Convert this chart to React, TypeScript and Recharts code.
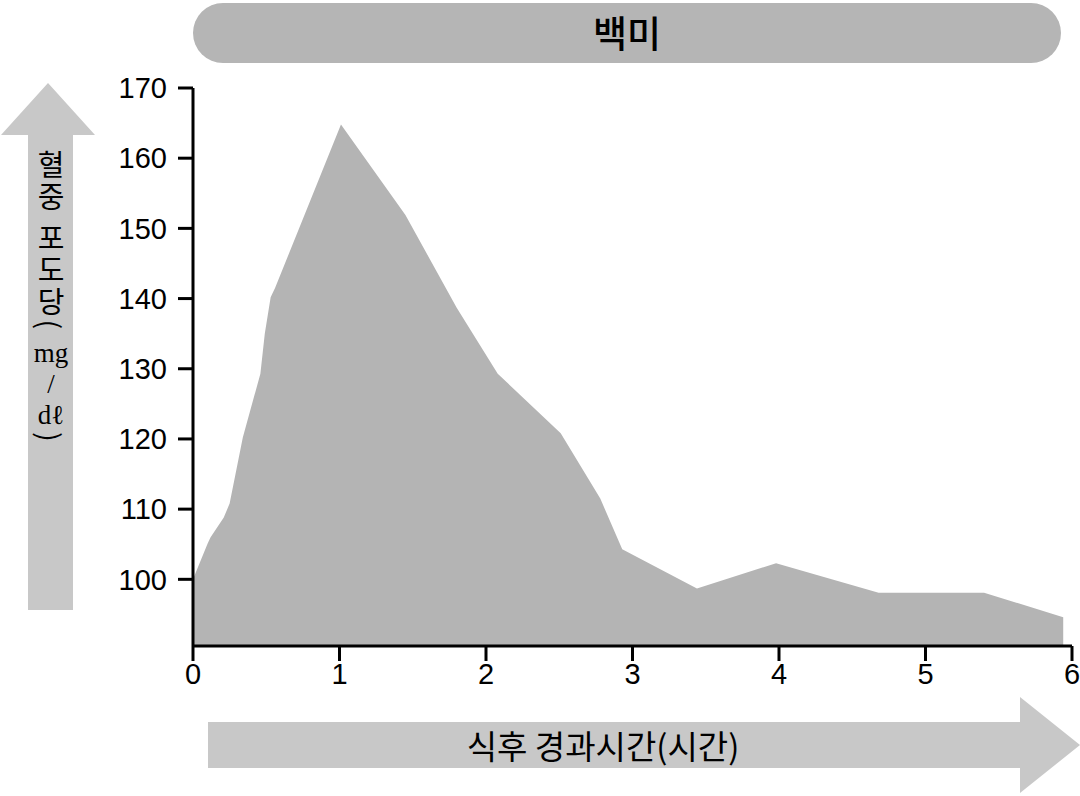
import React from 'react';
import { AreaChart, Area, XAxis, YAxis } from 'recharts';

// hours after meal
const hours = [0, 0.1, 0.12, 0.21, 0.25, 0.34, 0.46, 0.49, 0.53, 0.56, 1.01, 1.45, 1.8, 2.08, 2.51, 2.78, 2.93, 3.44, 3.98, 4.68, 5.4, 5.94];
// blood glucose mg/dl
const glucose = [100, 105.1, 106, 108.8, 110.8, 120.2, 129.3, 135, 140.2, 141.5, 164.8, 151.9, 138.7, 129.3, 120.8, 111.5, 104.3, 98.7, 102.3, 98.1, 98.1, 94.6];

const xTicks = [0, 1, 2, 3, 4, 5, 6];
const yTicks = [100, 110, 120, 130, 140, 150, 160, 170];

const title = '백미';
const xLabel = '식후 경과시간(시간)';
const yLabelMain = '혈중 포도당(';
const yLabelUnits = [
  { t: 'mg', y: 353 },
  { t: '/', y: 384 },
  { t: 'dℓ', y: 415 },
];
const yLabelClose = ')';

const chartData = hours.map((t, i) => ({ t, v: glucose[i] }));

const KR = '"Noto Sans CJK KR", "Noto Sans", sans-serif';
const NUM = '"Liberation Sans", Arial, sans-serif';
const SERIF = '"Liberation Serif", "DejaVu Serif", serif';

export default function App() {
  return (
    <div style={{ position: 'absolute', left: 0, top: 0, width: 1080, height: 796, background: '#fff' }}>
      <svg width={1080} height={796} style={{ position: 'absolute', left: 0, top: 0 }}>
        {/* title bar */}
        <rect x={193} y={3} width={868} height={60} rx={30} ry={30} fill="#b5b5b5" />
        <text x={627} y={32} textAnchor="middle" dominantBaseline="central" fontFamily={KR} fontSize={37} fontWeight={500} fill="#000">
          {title}
        </text>

        {/* y arrow */}
        <polygon points="28,610 28,135 1,135 48,83 95,135 73,135 73,610" fill="#c8c8c8" />
        <text x={51} y={150} fontFamily={KR} fontSize={29} fill="#000" letterSpacing={3}
          style={{ writingMode: 'vertical-rl', textOrientation: 'mixed' }}>
          {yLabelMain}
        </text>
        {yLabelUnits.map((u) => (
          <text key={u.t} x={51} y={u.y} textAnchor="middle" dominantBaseline="central" fontFamily={SERIF} fontSize={27} fill="#000">
            {u.t}
          </text>
        ))}
        <text x={51} y={432} fontFamily={KR} fontSize={29} fill="#000"
          style={{ writingMode: 'vertical-rl', textOrientation: 'mixed' }}>
          {yLabelClose}
        </text>

        {/* x arrow */}
        <polygon points="208,722 1020,722 1020,697 1080,745 1020,793 1020,768 208,768" fill="#c8c8c8" />
        <text x={603} y={745} textAnchor="middle" dominantBaseline="central" fontFamily={KR} fontSize={33} fill="#000">
          {xLabel}
        </text>
      </svg>

      <div style={{ position: 'absolute', left: 0, top: 0 }}>
        <AreaChart width={1080} height={796} data={chartData} margin={{ top: 88, right: 8, bottom: 100, left: 0 }}>
          <XAxis
            dataKey="t"
            type="number"
            domain={[0, 6]}
            ticks={xTicks}
            height={50}
            axisLine={{ stroke: '#000', strokeWidth: 3 }}
            tickLine={{ stroke: '#000', strokeWidth: 3 }}
            tickSize={15}
            tickMargin={2}
            tick={{ fill: '#000', fontSize: 29, fontFamily: NUM }}
            interval={0}
          />
          <YAxis
            type="number"
            domain={[90.5, 170]}
            ticks={yTicks}
            width={193}
            axisLine={{ stroke: '#000', strokeWidth: 3 }}
            tickLine={{ stroke: '#000', strokeWidth: 3 }}
            tickSize={15}
            tickMargin={11}
            tick={{ fill: '#000', fontSize: 29, fontFamily: NUM }}
            interval={0}
          />
          <Area
            type="linear"
            dataKey="v"
            stroke="none"
            fill="#b4b4b4"
            fillOpacity={1}
            isAnimationActive={false}
            dot={false}
            activeDot={false}
          />
        </AreaChart>
      </div>
    </div>
  );
}
